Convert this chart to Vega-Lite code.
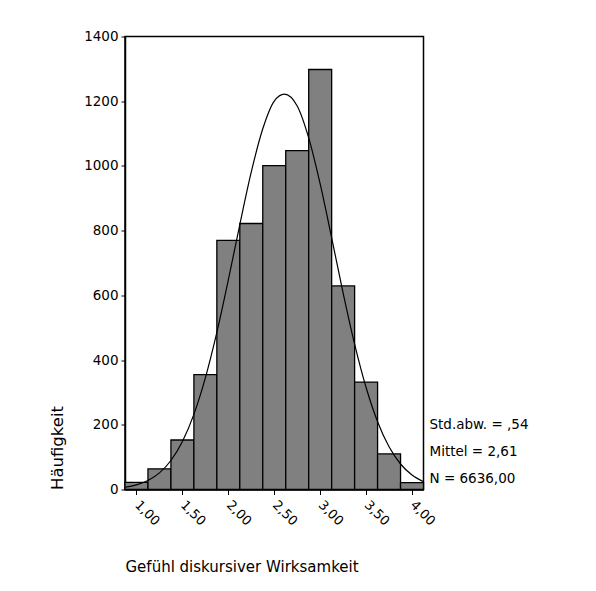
{
  "$schema": "https://vega.github.io/schema/vega-lite/v6.json",
  "width": 298.5,
  "height": 453,
  "autosize": {"type": "none"},
  "padding": {"left": 125, "top": 36.5, "right": 172.5, "bottom": 101.5},
  "background": "white",
  "config": {
    "font": "DejaVu Sans",
    "view": {"stroke": "black", "strokeWidth": 1.5},
    "axis": {
      "domainColor": "black",
      "domainWidth": 1.5,
      "tickColor": "black",
      "tickWidth": 1,
      "labelColor": "black",
      "titleColor": "black",
      "titleFontWeight": "normal",
      "grid": false
    }
  },
  "layer": [
    {
      "data": {
        "values": [
          {"bin_start": 0.875, "bin_end": 1.125, "count": 22},
          {"bin_start": 1.125, "bin_end": 1.375, "count": 64},
          {"bin_start": 1.375, "bin_end": 1.625, "count": 153},
          {"bin_start": 1.625, "bin_end": 1.875, "count": 355},
          {"bin_start": 1.875, "bin_end": 2.125, "count": 770},
          {"bin_start": 2.125, "bin_end": 2.375, "count": 822},
          {"bin_start": 2.375, "bin_end": 2.625, "count": 1001},
          {"bin_start": 2.625, "bin_end": 2.875, "count": 1047},
          {"bin_start": 2.875, "bin_end": 3.125, "count": 1298},
          {"bin_start": 3.125, "bin_end": 3.375, "count": 629},
          {"bin_start": 3.375, "bin_end": 3.625, "count": 332},
          {"bin_start": 3.625, "bin_end": 3.875, "count": 110},
          {"bin_start": 3.875, "bin_end": 4.125, "count": 21}
        ]
      },
      "mark": {"type": "bar", "fill": "#808080", "stroke": "black", "strokeWidth": 1.3},
      "encoding": {
        "x": {
          "field": "bin_start",
          "type": "quantitative",
          "title": "Gefühl diskursiver Wirksamkeit",
          "scale": {"domain": [0.875, 4.125], "nice": false, "zero": false},
          "axis": {
            "values": [1, 1.25, 1.5, 1.75, 2, 2.25, 2.5, 2.75, 3, 3.25, 3.5, 3.75, 4],
            "labelExpr": "(datum.value * 2) % 1 == 0 ? replace(format(datum.value, '.2f'), '.', ',') : ''",
            "labelAngle": 45,
            "labelAlign": "left",
            "labelBaseline": "middle",
            "labelPadding": 8,
            "labelFontSize": 13,
            "labelOverlap": false,
            "labelFlush": false,
            "tickSize": 5,
            "titleFontSize": 15,
            "titleAnchor": "start",
            "titlePadding": 32
          }
        },
        "x2": {"field": "bin_end"},
        "y": {
          "field": "count",
          "type": "quantitative",
          "title": "Häufigkeit",
          "scale": {"domain": [0, 1400], "nice": false},
          "axis": {
            "values": [0, 200, 400, 600, 800, 1000, 1200, 1400],
            "format": "d",
            "labelFontSize": 13.5,
            "labelPadding": 3,
            "tickSize": 4,
            "titleFontSize": 16.5,
            "titleAnchor": "start",
            "titlePadding": 18
          }
        },
        "y2": {"datum": 0}
      }
    },
    {
      "data": {
        "values": [
          {"x": 0.875, "density": 7.0},
          {"x": 1.0, "density": 14.4},
          {"x": 1.125, "density": 27.9},
          {"x": 1.25, "density": 51.4},
          {"x": 1.375, "density": 89.6},
          {"x": 1.5, "density": 148.2},
          {"x": 1.625, "density": 232.2},
          {"x": 1.75, "density": 344.8},
          {"x": 1.875, "density": 485.3},
          {"x": 2.0, "density": 647.5},
          {"x": 2.125, "density": 818.8},
          {"x": 2.25, "density": 981.3},
          {"x": 2.375, "density": 1114.8},
          {"x": 2.5, "density": 1200.5},
          {"x": 2.61, "density": 1222},
          {"x": 2.75, "density": 1185.2},
          {"x": 2.875, "density": 1086.6},
          {"x": 3.0, "density": 944.2},
          {"x": 3.125, "density": 777.8},
          {"x": 3.25, "density": 607.2},
          {"x": 3.375, "density": 449.3},
          {"x": 3.5, "density": 315.1},
          {"x": 3.625, "density": 209.5},
          {"x": 3.75, "density": 132.0},
          {"x": 3.875, "density": 78.8},
          {"x": 4.0, "density": 44.6},
          {"x": 4.125, "density": 23.9}
        ]
      },
      "mark": {"type": "line", "color": "black", "strokeWidth": 1.2, "interpolate": "monotone"},
      "encoding": {
        "x": {"field": "x", "type": "quantitative"},
        "y": {"field": "density", "type": "quantitative"}
      }
    },
    {
      "data": {"values": [{"text": "Std.abw. = ,54"}]},
      "mark": {"type": "text", "align": "left", "baseline": "middle", "dx": 6, "fontSize": 13.5, "color": "black"},
      "encoding": {
        "x": {"datum": 4.125, "type": "quantitative"},
        "y": {"datum": 200, "type": "quantitative"},
        "text": {"field": "text"}
      }
    },
    {
      "data": {"values": [{"text": "Mittel = 2,61"}]},
      "mark": {"type": "text", "align": "left", "baseline": "middle", "dx": 6, "fontSize": 13.5, "color": "black"},
      "encoding": {
        "x": {"datum": 4.125, "type": "quantitative"},
        "y": {"datum": 117, "type": "quantitative"},
        "text": {"field": "text"}
      }
    },
    {
      "data": {"values": [{"text": "N = 6636,00"}]},
      "mark": {"type": "text", "align": "left", "baseline": "middle", "dx": 6, "fontSize": 13.5, "color": "black"},
      "encoding": {
        "x": {"datum": 4.125, "type": "quantitative"},
        "y": {"datum": 33, "type": "quantitative"},
        "text": {"field": "text"}
      }
    }
  ]
}
